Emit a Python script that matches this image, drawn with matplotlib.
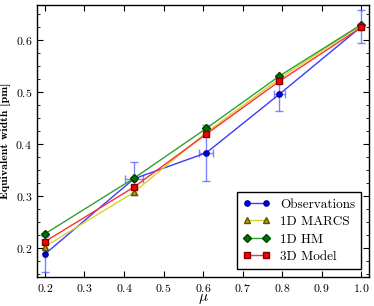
import matplotlib
matplotlib.use("Agg")
import matplotlib.pyplot as plt
from matplotlib.ticker import MultipleLocator

plt.rcParams['font.family'] = ['cmr10', 'DejaVu Serif']
plt.rcParams['mathtext.fontset'] = 'cm'
plt.rcParams['axes.formatter.use_mathtext'] = True

# --- Data ---
mu = [0.2, 0.425, 0.608, 0.793, 1.0]
obs = [0.188, 0.333, 0.383, 0.496, 0.626]
obs_yerr = [0.035, 0.032, 0.054, 0.033, 0.032]
obs_xerr = [0.0, 0.023, 0.018, 0.014, 0.0]
marcs = [0.2025, 0.307, 0.422, 0.526, 0.629]
hm = [0.227, 0.334, 0.430, 0.531, 0.630]
model3d = [0.212, 0.317, 0.419, 0.521, 0.625]

fig = plt.figure(figsize=(3.74, 3.06), dpi=100)
ax = fig.add_axes([0.099, 0.095, 0.888, 0.889])

ms = 3.8
ax.errorbar(mu, obs, yerr=obs_yerr, xerr=obs_xerr, fmt='none', ecolor='#5868ff',
            elinewidth=1.0, capsize=3, capthick=1.0, alpha=0.8, zorder=2)
ax.plot(mu, obs, '-o', color='#3a3aff', mfc='#0000e0', mec='#0000a0', ms=ms, lw=1.0,
        label='Observations', zorder=3)
ax.plot(mu, marcs, '-^', color='#d4d430', mfc='#b0a000', mec='#605000', ms=ms, lw=1.0,
        label='1D MARCS', zorder=3)
ax.plot(mu, hm, '-D', color='#30a030', mfc='#007000', mec='#004000', ms=ms, lw=1.0,
        label='1D HM', zorder=3)
ax.plot(mu, model3d, '-s', color='#ff3030', mfc='#ff0000', mec='#800000', ms=ms, lw=1.0,
        label='3D Model', zorder=3)

ax.set_xlim(0.18, 1.02)
ax.set_ylim(0.144, 0.668)
ax.xaxis.set_major_locator(MultipleLocator(0.1))
ax.yaxis.set_major_locator(MultipleLocator(0.1))
ax.yaxis.set_minor_locator(MultipleLocator(0.025))
ax.tick_params(which='both', direction='in', top=True, right=True, labelsize=8.5)
ax.tick_params(which='major', length=4)
ax.tick_params(which='minor', length=2)
for s in ax.spines.values():
    s.set_linewidth(1.0)

ax.set_xlabel(r'$\mu$', fontsize=11, labelpad=-1)
ax.set_ylabel('Equivalent width [pm]', fontsize=8.5, family='cmb10', labelpad=4)

leg = ax.legend(loc='lower right', numpoints=2, fontsize=9.5, fancybox=False,
                framealpha=1, edgecolor='black', handlelength=2.0, borderpad=0.45,
                labelspacing=0.4, borderaxespad=0.6)
leg.get_frame().set_linewidth(1.0)

fig.savefig('out.png', dpi=100)
